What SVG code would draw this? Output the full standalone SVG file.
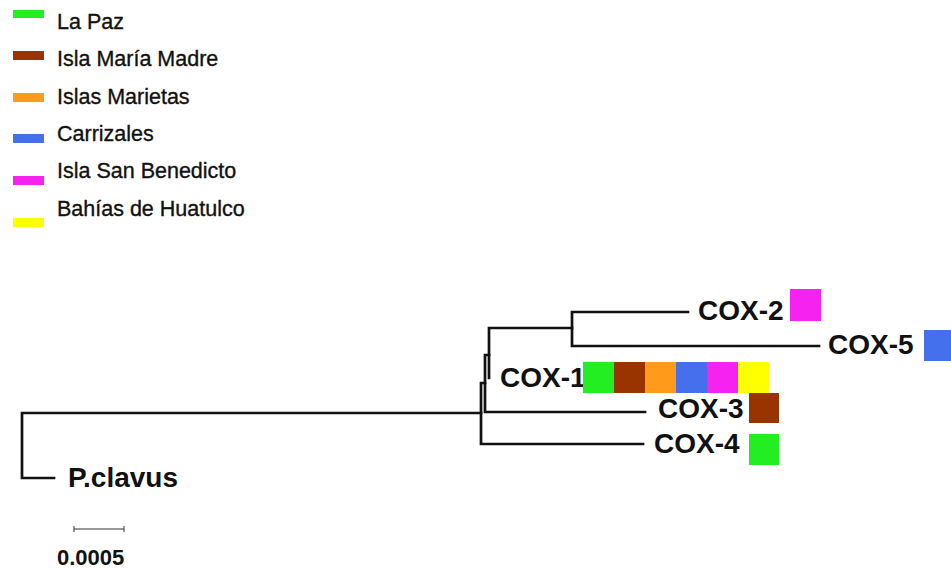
<svg xmlns="http://www.w3.org/2000/svg" width="951" height="569" viewBox="0 0 951 569">
<style>
.leg{font-family:"Liberation Sans",Arial,sans-serif;font-size:21.5px;fill:#111;stroke:#111;stroke-width:0.35}
.lab{font-family:"Liberation Sans",Arial,sans-serif;font-size:28px;font-weight:bold;fill:#111}
.br{stroke:#111;stroke-width:2.7;fill:none;stroke-linecap:square}
.g{fill:#22ee22}.b{fill:#993300}.o{fill:#ff9a1a}.u{fill:#4470ee}.m{fill:#f522f0}.y{fill:#ffff00}
</style>
<rect width="951" height="569" fill="#fff"/>
<g id="legend">
<rect class="g" x="13" y="10" width="31" height="8"/><text class="leg" x="57" y="29">La Paz</text>
<rect class="b" x="13" y="51" width="31" height="9"/><text class="leg" x="57" y="66">Isla María Madre</text>
<rect class="o" x="13" y="93" width="31" height="9"/><text class="leg" x="57" y="104">Islas Marietas</text>
<rect class="u" x="13" y="134" width="31" height="9"/><text class="leg" x="57" y="141">Carrizales</text>
<rect class="m" x="13" y="176" width="31" height="9"/><text class="leg" x="57" y="178">Isla San Benedicto</text>
<rect class="y" x="13" y="218" width="31" height="9"/><text class="leg" x="57" y="216">Bahías de Huatulco</text>
</g>
<g id="connectors">
<path class="br" d="M481 413 H22 V478 H54"/>
<path class="br" d="M485 383 H481 V444 H643"/>
<path class="br" d="M489 355 H485 V412 H645"/>
<path class="br" d="M572 328 H489 V378"/>
<path class="br" d="M688 312 H572 V346 H819"/>
</g>
<g id="P.clavus"><text class="lab" x="68" y="487">P.clavus</text></g>
<g id="COX-2"><text class="lab" x="698" y="320">COX-2</text><rect class="m" x="790" y="289" width="31" height="32"/></g>
<g id="COX-5"><text class="lab" x="828" y="354">COX-5</text><rect class="u" x="924" y="330" width="31" height="31"/></g>
<g id="COX-1"><text class="lab" x="500" y="387">COX-1</text>
<rect class="g" x="583" y="362" width="31" height="31"/>
<rect class="b" x="614" y="362" width="31" height="31"/>
<rect class="o" x="645" y="362" width="31" height="31"/>
<rect class="u" x="676" y="362" width="31" height="31"/>
<rect class="m" x="707" y="362" width="31" height="31"/>
<rect class="y" x="738" y="362" width="31" height="31"/>
</g>
<g id="COX-3"><text class="lab" x="658" y="418">COX-3</text><rect class="b" x="749" y="393" width="30" height="30"/></g>
<g id="COX-4"><text class="lab" x="654" y="453">COX-4</text><rect class="g" x="749" y="434" width="30" height="31"/></g>
<g id="scale">
<path d="M74 529 H124 M74 526 V532 M124 526 V532" stroke="#333" stroke-width="1" fill="none"/>
<text x="57" y="565" style="font-family:'Liberation Sans',Arial,sans-serif;font-size:22px;font-weight:bold;fill:#111">0.0005</text>
</g>
</svg>
